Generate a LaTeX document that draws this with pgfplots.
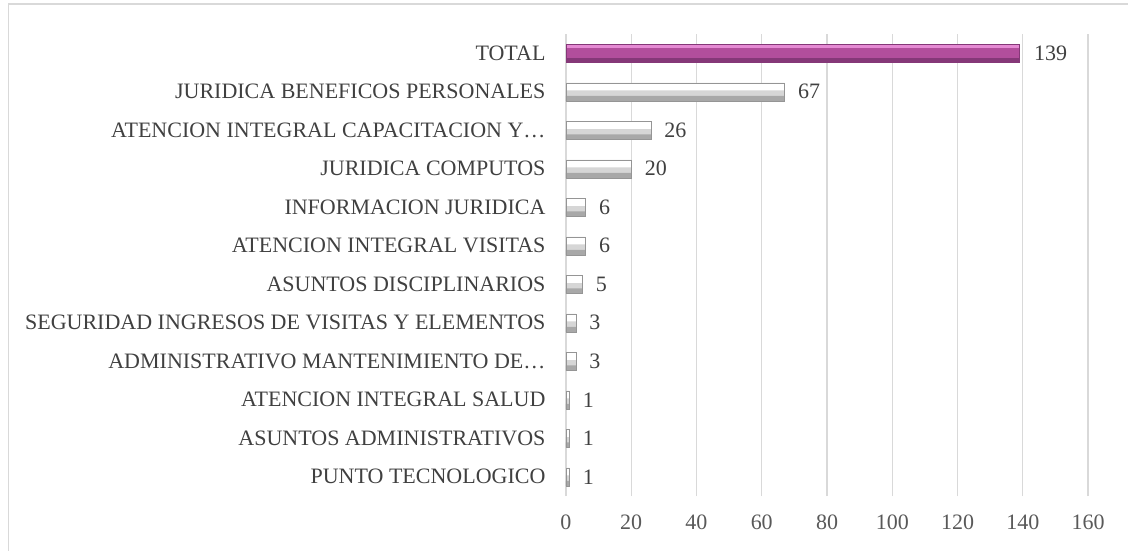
\documentclass[border=0pt]{standalone}
\usepackage{fontspec}
\setmainfont{Liberation Serif}
\usepackage{pgfplots}
\pgfplotsset{compat=1.18}
\definecolor{txt}{HTML}{404040}
\definecolor{tickc}{HTML}{595959}
\definecolor{gridc}{HTML}{D9D9D9}
\definecolor{pinkT}{HTML}{E58AD3}
\definecolor{pinkM}{HTML}{B24E9C}
\definecolor{pinkB}{HTML}{853878}
\definecolor{grayM}{HTML}{D6D6D6}
\definecolor{grayB}{HTML}{A8A8A8}
\definecolor{grayE}{HTML}{959595}
\pgfplotstableread{
v y
1 0
1 1
1 2
3 3
3 4
5 5
6 6
6 7
20 8
26 9
67 10
}\gray
\pgfplotstableread{
v y
139 11
}\total
\begin{document}
\begin{tikzpicture}[x=1pt,y=1pt]
\useasboundingbox (0,0) rectangle (1128,550);
\draw[gridc, line width=1.5pt] (8.5,-10) -- (8.5,546) -- (1140,546);
\begin{axis}[
  at={(566pt,54pt)}, anchor=south west,
  scale only axis, width=522pt, height=462pt,
  xmin=0, xmax=160, ymin=-0.5, ymax=11.5,
  xtick={0,20,...,160},
  ytick={0,...,11},
  yticklabels={PUNTO TECNOLOGICO, ASUNTOS ADMINISTRATIVOS, ATENCION INTEGRAL SALUD, ADMINISTRATIVO MANTENIMIENTO DE…, SEGURIDAD INGRESOS DE VISITAS Y ELEMENTOS, ASUNTOS DISCIPLINARIOS, ATENCION INTEGRAL VISITAS, INFORMACION JURIDICA, JURIDICA COMPUTOS, ATENCION INTEGRAL CAPACITACION Y…, JURIDICA BENEFICOS PERSONALES, TOTAL},
  axis line style={draw=none},
  xmajorgrids=true, ymajorgrids=false,
  major x grid style={draw=gridc, line width=1.2pt},
  major tick length=0pt,
  /pgf/number format/assume math mode=true,
  tick label style={font=\fontsize{22}{24}\selectfont},
  xticklabel style={text=tickc, yshift=-15pt},
  yticklabel style={text=txt, xshift=-17pt},
  xbar, bar shift=0pt,
  clip=false,
]
% gray bars: body, top highlight, bottom shade, outline
\addplot[xbar, bar width=18pt, draw=none, fill=grayM,
  nodes near coords,
  every node near coord/.append style={font=\fontsize{22}{24}\selectfont, text=txt, anchor=west, xshift=10pt}]
  table[x=v, y=y] {\gray};
\addplot[xbar, bar width=7pt, bar shift=5pt, draw=none, fill=white] table[x=v, y=y] {\gray};
\addplot[xbar, bar width=5pt, bar shift=-6.5pt, draw=none, fill=grayB] table[x=v, y=y] {\gray};
\addplot[xbar, bar width=18pt, draw=grayE, fill=none] table[x=v, y=y] {\gray};
% total bar
\addplot[xbar, bar width=18pt, draw=none, fill=pinkM,
  nodes near coords,
  every node near coord/.append style={font=\fontsize{22}{24}\selectfont, text=txt, anchor=west, xshift=11pt}]
  table[x=v, y=y] {\total};
\addplot[xbar, bar width=3pt, bar shift=6.5pt, draw=none, fill=pinkT] table[x=v, y=y] {\total};
\addplot[xbar, bar width=4pt, bar shift=-6.5pt, draw=none, fill=pinkB] table[x=v, y=y] {\total};
\addplot[xbar, bar width=18pt, draw=pinkB, fill=none] table[x=v, y=y] {\total};
\end{axis}
\end{tikzpicture}
\end{document}
